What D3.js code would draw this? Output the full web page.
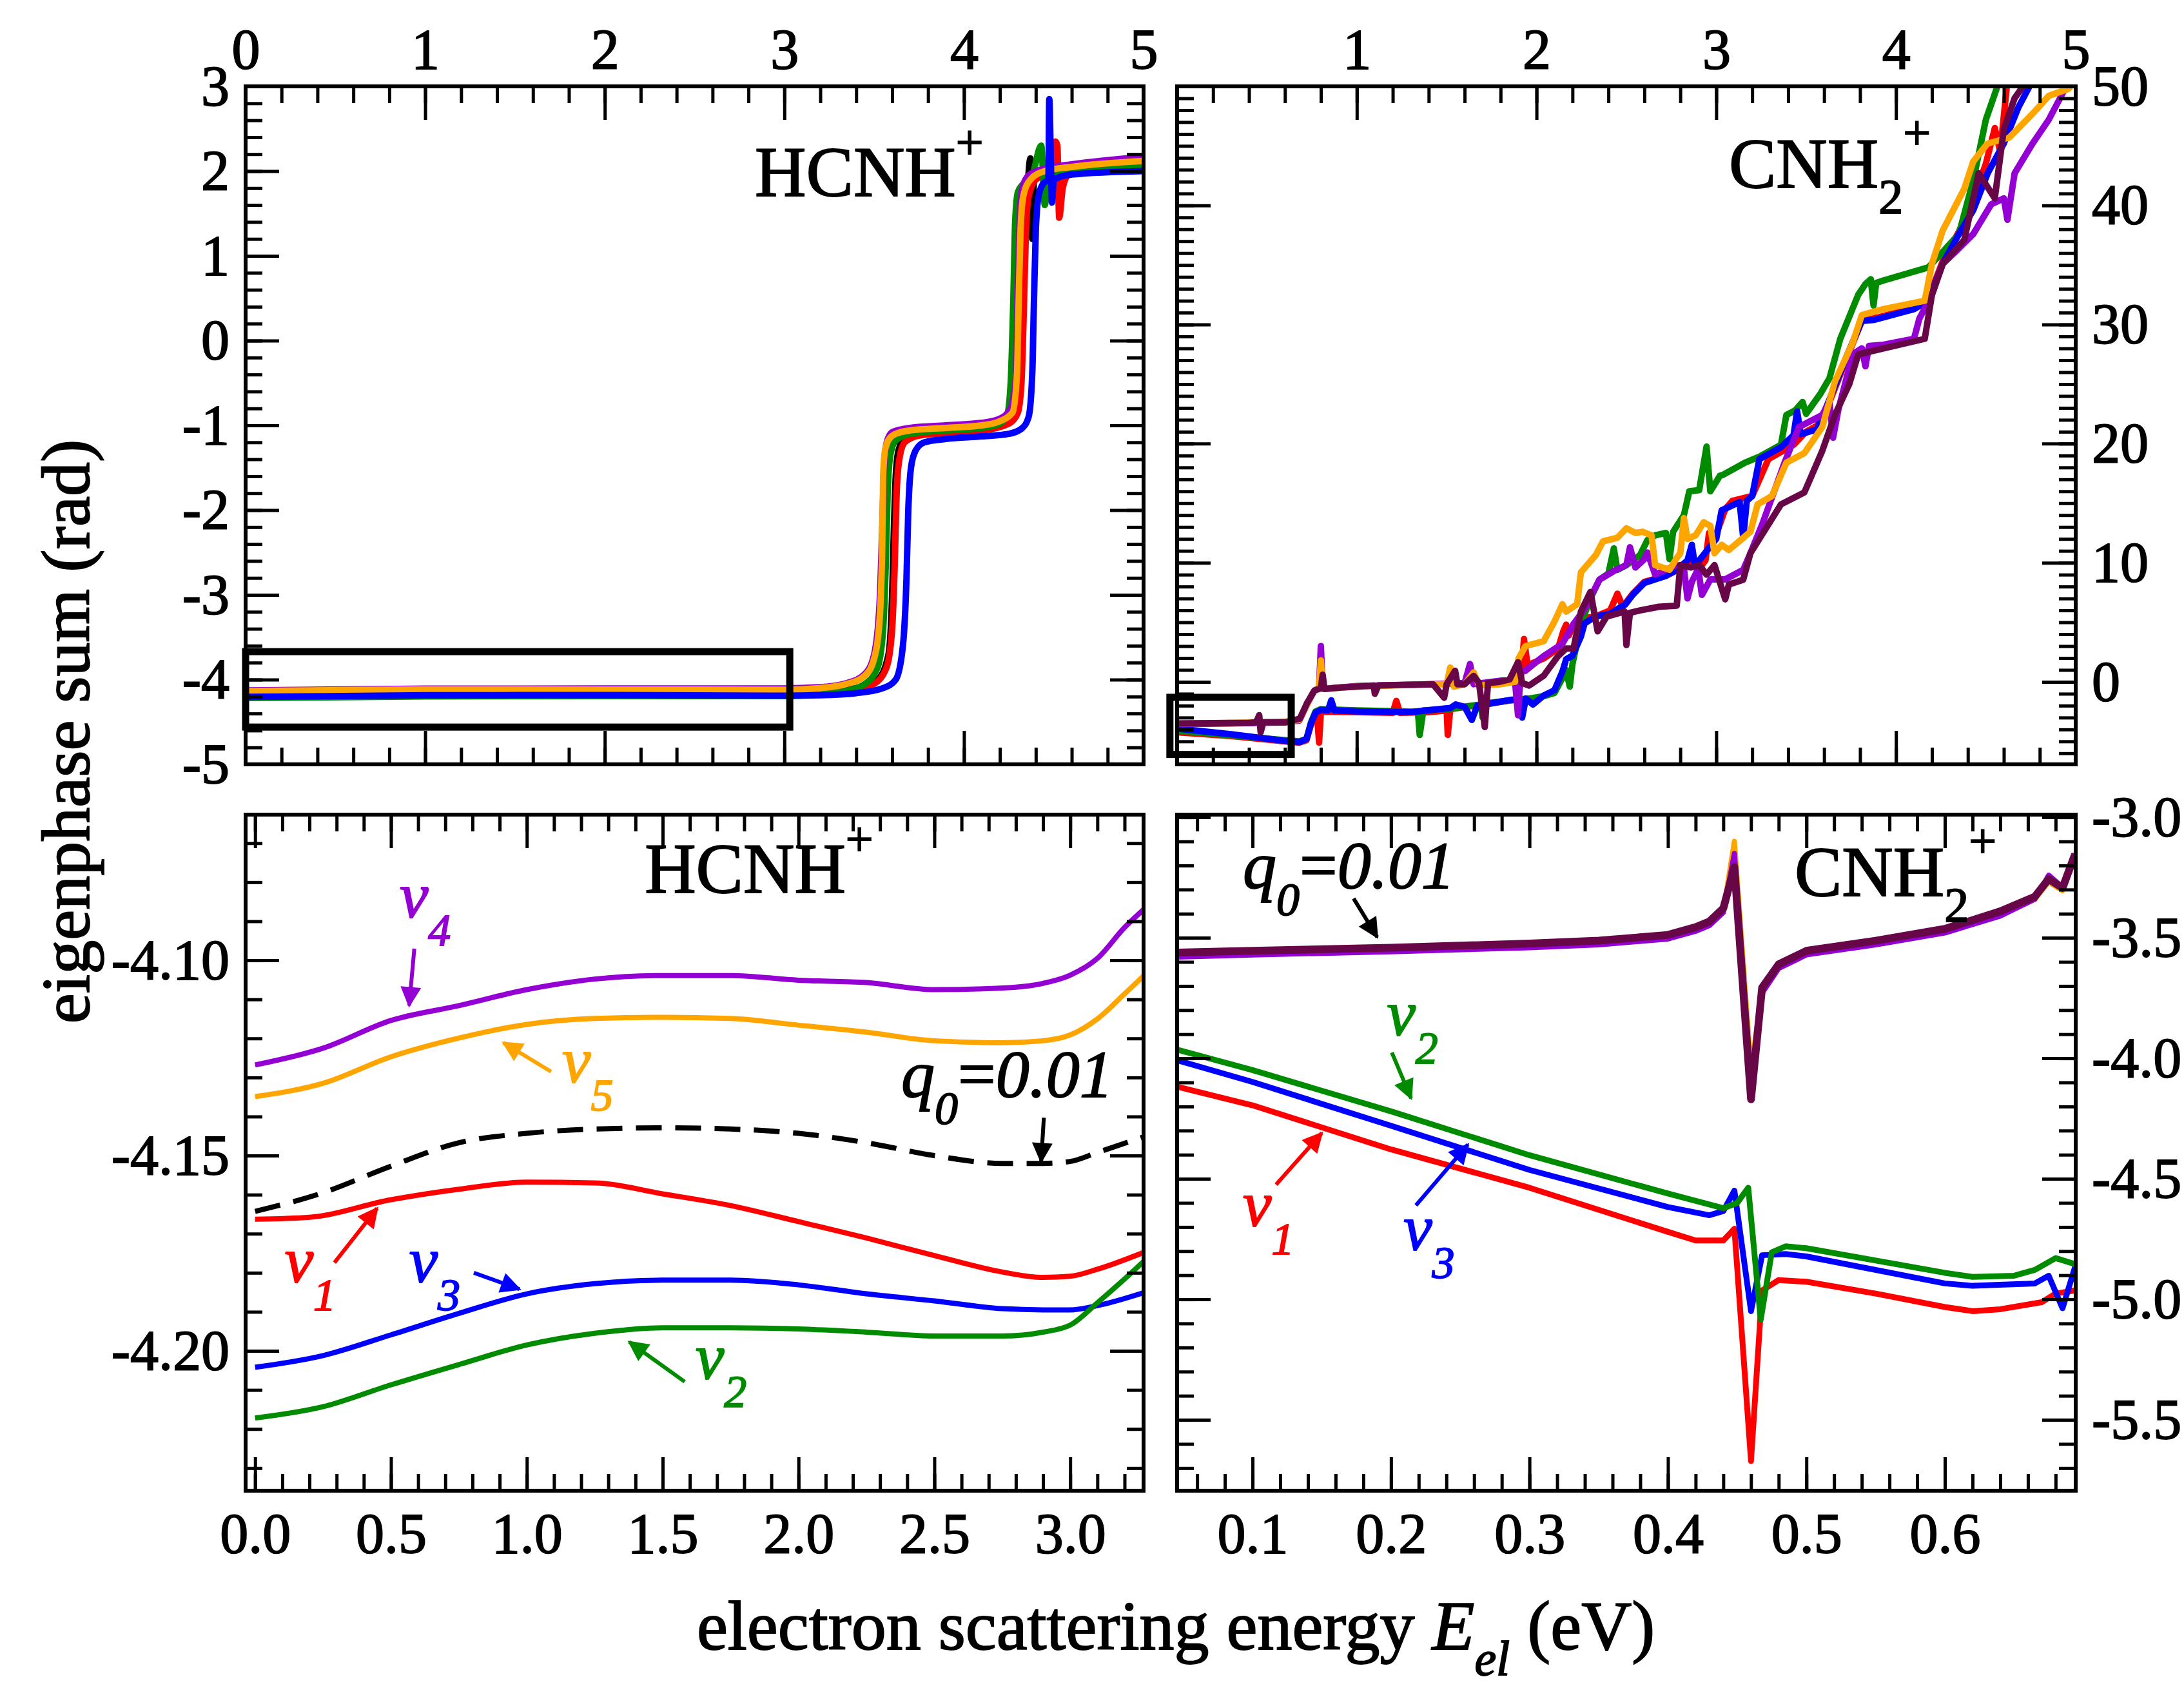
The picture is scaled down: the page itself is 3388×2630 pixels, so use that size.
<!DOCTYPE html>
<html>
<head>
<meta charset="utf-8">
<script src="https://cdn.jsdelivr.net/npm/d3@7"></script>
<style>
  body { margin: 0; background: #fff; }
  text { white-space: pre; }
</style>
</head>
<body>
<script>
// ---------------- data ----------------

// top left: HCNH+, full range
var hcnhBlack = [[0,-4.164],[1,-4.144],[2,-4.144],[3,-4.152],[3.2,-4.14],[3.4,-4.1],[3.52,-4.0],[3.58,-3.7],[3.6,-3.0],[3.61,-2.2],[3.62,-1.6],[3.635,-1.3],[3.67,-1.15],[3.75,-1.1],[3.9,-1.07],[4.1,-1.04],[4.22,-1.0],[4.28,-0.9],[4.31,-0.5],[4.325,0.5],[4.335,1.3],[4.35,1.7],[4.37,2.15],[4.38,1.2],[4.39,1.9],[4.45,2.0],[5,2.05]];
var hcnhRed = [[0,-4.166],[1,-4.157],[2,-4.167],[3,-4.181],[3.2,-4.16],[3.4,-4.12],[3.5,-4.05],[3.57,-3.85],[3.6,-3.4],[3.615,-2.6],[3.625,-1.8],[3.64,-1.4],[3.67,-1.2],[3.75,-1.12],[3.9,-1.09],[4.1,-1.06],[4.25,-0.98],[4.3,-0.85],[4.32,-0.5],[4.335,0.5],[4.345,1.3],[4.36,1.7],[4.4,1.9],[4.48,1.98],[4.5,2.0],[4.51,2.35],[4.52,2.3],[4.53,1.45],[4.55,1.8],[4.58,1.95],[4.7,2.0],[5,2.03]];
var hcnhGreen = [[0,-4.217],[1,-4.198],[2,-4.194],[3,-4.193],[3.2,-4.17],[3.35,-4.13],[3.45,-4.05],[3.52,-3.85],[3.55,-3.4],[3.565,-2.6],[3.575,-1.8],[3.59,-1.35],[3.62,-1.18],[3.7,-1.1],[3.9,-1.06],[4.1,-1.03],[4.2,-0.98],[4.24,-0.88],[4.26,-0.5],[4.275,0.5],[4.285,1.4],[4.3,1.75],[4.33,1.85],[4.38,1.95],[4.43,2.3],[4.45,1.6],[4.47,1.95],[4.6,2.0],[5,2.05]];
var hcnhPurple = [[0,-4.127],[1,-4.107],[2,-4.105],[3,-4.104],[3.2,-4.09],[3.35,-4.04],[3.45,-3.93],[3.5,-3.7],[3.53,-3.1],[3.545,-2.2],[3.555,-1.5],[3.57,-1.2],[3.6,-1.08],[3.7,-1.03],[3.9,-1.0],[4.1,-0.97],[4.2,-0.92],[4.26,-0.8],[4.29,-0.4],[4.3,0.6],[4.31,1.4],[4.325,1.8],[4.36,1.95],[4.45,2.03],[4.6,2.08],[5,2.17]];
var hcnhOrange = [[0,-4.135],[1,-4.116],[2,-4.117],[3,-4.119],[3.2,-4.1],[3.35,-4.05],[3.45,-3.95],[3.5,-3.75],[3.53,-3.3],[3.545,-2.4],[3.55,-1.6],[3.56,-1.3],[3.58,-1.17],[3.62,-1.1],[3.7,-1.06],[3.9,-1.03],[4.1,-1.0],[4.2,-0.95],[4.27,-0.85],[4.295,-0.4],[4.305,0.5],[4.315,1.3],[4.33,1.7],[4.37,1.9],[4.45,2.0],[4.6,2.05],[5,2.12]];
var hcnhBlue = [[0,-4.204],[1,-4.185],[2,-4.183],[3,-4.19],[3.2,-4.185],[3.4,-4.16],[3.55,-4.1],[3.62,-4.0],[3.66,-3.6],[3.68,-2.8],[3.69,-2.0],[3.705,-1.5],[3.73,-1.3],[3.78,-1.2],[3.9,-1.16],[4.1,-1.13],[4.25,-1.1],[4.32,-1.04],[4.36,-0.9],[4.38,-0.4],[4.39,0.5],[4.4,1.3],[4.415,1.7],[4.44,1.85],[4.47,1.9],[4.475,2.85],[4.485,2.0],[4.49,1.63],[4.5,1.9],[4.6,1.96],[5,2.0]];

// top right: CNH2+, full range
var cnhRed = [[0,-4.24],[0.3,-4.55],[0.6,-5.0],[0.68,-5.1],[0.72,-4.9],[0.745,-3.6],[0.77,-2.7],[0.78,-3.0],[0.79,-5.1],[0.8,-2.5],[1.0,-2.55],[1.2,-2.6],[1.22,-1.6],[1.24,-2.6],[1.4,-2.55],[1.5,-2.4],[1.506,-4.45],[1.52,-2.3],[1.6,-2.1],[1.75,-1.8],[1.86,-1.55],[1.9,-1.4],[1.92,1.45],[1.93,3.6],[1.95,1.4],[2.04,1.96],[2.12,2.8],[2.15,4.3],[2.165,4.8],[2.18,3.9],[2.206,4.86],[2.25,5.3],[2.33,5.5],[2.41,6.0],[2.45,7.4],[2.48,6.3],[2.535,7.4],[2.6,8.4],[2.72,8.9],[2.8,9.5],[2.85,10.2],[2.9,9.4],[2.94,10.2],[2.96,12.5],[3.0,12.4],[3.05,14.5],[3.09,15.2],[3.2,15.6],[3.29,18.7],[3.43,19.9],[3.5,21],[3.56,21.5],[3.63,23.5],[3.73,27.3],[3.81,30.3],[3.9,30.6],[4.1,31.4],[4.18,32.2],[4.26,35.3],[4.35,37.8],[4.43,40.5],[4.5,43.5],[4.55,46.5],[4.58,44.5],[4.62,50.5],[4.65,52]];
var cnhGreen = [[0,-4.1],[0.3,-4.5],[0.6,-4.9],[0.68,-5.0],[0.72,-4.8],[0.745,-3.4],[0.77,-2.5],[0.8,-2.3],[1.0,-2.4],[1.3,-2.5],[1.34,-2.5],[1.35,-4.45],[1.37,-2.4],[1.5,-2.3],[1.6,-2.1],[1.69,-1.9],[1.7,-3.0],[1.72,-1.8],[1.86,-1.55],[1.96,-1.4],[2.04,-1.2],[2.1,-0.93],[2.14,0.2],[2.165,1.0],[2.185,-0.4],[2.2,1.5],[2.247,4.86],[2.3,7.0],[2.35,8.58],[2.4,9.1],[2.43,11.2],[2.45,9.4],[2.5,9.8],[2.576,10.65],[2.617,11.9],[2.66,12.3],[2.72,12.5],[2.74,10.3],[2.76,12.6],[2.82,14.0],[2.85,16.0],[2.905,16.1],[2.946,19.75],[2.967,16.0],[3.02,17.3],[3.04,17.4],[3.16,18.4],[3.24,18.9],[3.36,19.9],[3.39,22.4],[3.44,22.8],[3.48,23.5],[3.5,22.5],[3.58,24.2],[3.63,25.5],[3.69,28.8],[3.79,32.5],[3.83,33.4],[3.86,33.8],[3.875,31.6],[3.89,33.5],[3.93,33.7],[4.18,34.8],[4.26,36.1],[4.35,37.6],[4.43,42.1],[4.5,47.2],[4.56,49.8],[4.6,52]];
var cnhBlue = [[0,-3.93],[0.3,-4.4],[0.6,-4.96],[0.68,-5.07],[0.72,-4.8],[0.745,-3.5],[0.77,-2.6],[0.8,-2.35],[0.84,-2.4],[0.858,-1.55],[0.875,-2.4],[1.0,-2.48],[1.3,-2.55],[1.45,-2.3],[1.52,-2.2],[1.55,-1.9],[1.6,-2.1],[1.64,-3.2],[1.67,-2.0],[1.75,-1.8],[1.86,-1.5],[1.9,-1.5],[1.92,-3.0],[1.94,-1.4],[1.98,-1.9],[2.04,-1.15],[2.1,-0.7],[2.145,0.9],[2.165,1.9],[2.2,2.2],[2.247,3.8],[2.267,4.9],[2.33,5.5],[2.41,5.7],[2.46,6.2],[2.494,6.5],[2.535,7.3],[2.6,8.3],[2.72,8.9],[2.78,9.4],[2.84,10.2],[2.864,11.5],[2.88,9.9],[2.9,10.1],[3.0,12.0],[3.03,14.4],[3.13,15.1],[3.15,12.1],[3.17,15.2],[3.2,15.6],[3.24,18.7],[3.36,19.7],[3.43,20.7],[3.45,22.7],[3.47,20.8],[3.56,21.2],[3.63,23.7],[3.73,27.5],[3.81,30.3],[3.88,30.4],[4.1,31.3],[4.18,32.0],[4.26,35.1],[4.35,37.6],[4.43,39.6],[4.51,42.7],[4.6,45.2],[4.68,48.2],[4.76,50.5],[4.8,52]];
var cnhPurple = [[0,-3.55],[0.3,-3.5],[0.6,-3.4],[0.68,-3.25],[0.72,-2.0],[0.76,-0.8],[0.79,-0.5],[0.8,3.0],[0.81,-0.6],[1.0,-0.35],[1.4,-0.2],[1.6,-0.1],[1.63,1.5],[1.65,-0.2],[1.8,0.1],[1.88,0.1],[1.897,-2.8],[1.91,0.8],[1.938,0.93],[2.04,2.17],[2.144,3.2],[2.206,4.86],[2.267,6.1],[2.35,8.58],[2.43,9.3],[2.5,9.8],[2.52,11.3],[2.55,9.6],[2.6,10.3],[2.617,10.86],[2.66,9.0],[2.78,9.8],[2.82,9.5],[2.84,7.0],[2.864,8.4],[2.9,9.5],[2.92,7.3],[2.967,8.6],[3.05,8.6],[3.15,9.4],[3.19,10.8],[3.26,13.4],[3.38,18.4],[3.46,21.4],[3.59,22.4],[3.63,23.5],[3.65,20.5],[3.68,22.9],[3.76,27.5],[3.81,28.0],[3.83,26.5],[3.85,28.2],[3.93,28.3],[4.1,28.8],[4.13,30.5],[4.2,32.5],[4.26,35.1],[4.33,36.1],[4.43,37.6],[4.53,40.1],[4.6,40.6],[4.62,38.8],[4.66,42.7],[4.76,45.2],[4.85,47.2],[4.93,49.5],[4.98,51]];
var cnhOrange = [[0,-3.5],[0.3,-3.45],[0.6,-3.35],[0.68,-3.2],[0.72,-2.0],[0.76,-0.8],[0.79,-0.5],[0.8,1.8],[0.81,-0.6],[1.0,-0.4],[1.2,-0.3],[1.4,-0.2],[1.5,-0.2],[1.52,1.2],[1.54,-0.4],[1.6,-0.2],[1.65,0.8],[1.68,-0.3],[1.8,-0.2],[1.88,0.0],[1.9,1.96],[1.938,3.0],[2.04,3.41],[2.1,5.07],[2.144,6.52],[2.165,5.9],[2.226,6.52],[2.247,9.2],[2.33,10.65],[2.37,11.8],[2.45,12.1],[2.5,12.9],[2.55,12.5],[2.59,12.6],[2.64,12.3],[2.66,9.8],[2.74,9.41],[2.78,10.4],[2.8,10.8],[2.82,13.75],[2.84,12.0],[2.885,12.3],[2.93,13.4],[2.967,13.1],[2.99,10.8],[3.03,11.5],[3.07,11.07],[3.19,12.6],[3.23,14.9],[3.31,15.6],[3.39,18.4],[3.49,19.2],[3.59,21.4],[3.66,25.2],[3.76,28.5],[3.81,30.8],[3.93,31.3],[4.16,32.0],[4.2,35.1],[4.26,37.9],[4.38,41.4],[4.43,43.7],[4.51,45.2],[4.63,45.7],[4.76,47.7],[4.85,49.2],[4.96,49.8],[5,50.5]];
var cnhMaroon = [[0,-3.5],[0.3,-3.45],[0.395,-3.45],[0.44,-3.4],[0.457,-2.8],[0.465,-4.24],[0.48,-3.4],[0.6,-3.4],[0.683,-3.1],[0.724,-1.76],[0.765,-0.72],[0.8,-0.55],[0.81,0.6],[0.82,-0.6],[0.91,-0.48],[1.095,-0.31],[1.1,-1.0],[1.12,-0.3],[1.424,-0.2],[1.486,-1.34],[1.5,-0.2],[1.547,0.93],[1.56,-0.2],[1.6,-0.2],[1.65,0.5],[1.68,-0.1],[1.712,-3.8],[1.73,-0.1],[1.794,0.0],[1.85,0.2],[1.897,1.65],[1.92,-0.1],[1.959,-0.31],[2.04,0.52],[2.12,2.17],[2.165,2.8],[2.206,2.8],[2.247,5.9],[2.3,7.55],[2.34,4.24],[2.39,5.48],[2.49,5.9],[2.5,3.1],[2.52,5.8],[2.576,6.0],[2.68,6.3],[2.78,6.4],[2.8,9.8],[2.86,9.6],[2.905,9.8],[2.946,9.0],[2.99,9.8],[3.05,6.93],[3.07,8.17],[3.15,8.58],[3.19,10.8],[3.36,14.9],[3.49,15.9],[3.59,19.4],[3.66,22.4],[3.74,25.0],[3.79,27.5],[3.93,28.0],[4.16,28.8],[4.2,32.5],[4.26,35.1],[4.38,37.1],[4.46,42.7],[4.55,40.6],[4.6,46.4],[4.66,49.0],[4.73,50.5],[4.76,52]];

// bottom left: HCNH+, low energy close-up
var lowHcnhPurple = [[0,-4.1268],[0.25,-4.1225],[0.5,-4.1154],[0.75,-4.1116],[1.0,-4.1075],[1.25,-4.1048],[1.5,-4.1039],[1.75,-4.1039],[2.0,-4.1051],[2.25,-4.1057],[2.5,-4.1075],[2.75,-4.1071],[2.9,-4.1059],[3.0,-4.1038],[3.1,-4.0995],[3.2,-4.0916],[3.27,-4.087]];
var lowHcnhOrange = [[0,-4.1349],[0.25,-4.1315],[0.5,-4.1247],[0.75,-4.1199],[1.0,-4.1164],[1.25,-4.1149],[1.5,-4.1146],[1.75,-4.1149],[2.0,-4.1166],[2.25,-4.1184],[2.5,-4.1206],[2.75,-4.1211],[2.9,-4.1206],[3.0,-4.1191],[3.1,-4.115],[3.2,-4.1086],[3.27,-4.104]];
var lowHcnhBlack = [[0,-4.1643],[0.25,-4.1595],[0.5,-4.1527],[0.75,-4.1467],[1.0,-4.1443],[1.25,-4.1432],[1.5,-4.1429],[1.75,-4.1432],[2.0,-4.1443],[2.25,-4.1467],[2.5,-4.15],[2.75,-4.152],[2.9,-4.152],[3.0,-4.1515],[3.1,-4.1492],[3.27,-4.1452]];
var lowHcnhRed = [[0,-4.1663],[0.2,-4.1658],[0.5,-4.1613],[0.75,-4.1586],[1.0,-4.1568],[1.25,-4.157],[1.5,-4.1598],[1.75,-4.1628],[2.0,-4.1669],[2.25,-4.1711],[2.5,-4.1756],[2.75,-4.1798],[2.9,-4.1812],[3.0,-4.1809],[3.1,-4.1791],[3.27,-4.1748]];
var lowHcnhBlue = [[0,-4.2042],[0.25,-4.2012],[0.5,-4.1959],[0.75,-4.1904],[1.0,-4.1854],[1.25,-4.1828],[1.5,-4.1819],[1.75,-4.1819],[2.0,-4.1831],[2.25,-4.1854],[2.5,-4.1872],[2.75,-4.1892],[2.9,-4.1895],[3.0,-4.1895],[3.1,-4.1884],[3.27,-4.1851]];
var lowHcnhGreen = [[0,-4.2172],[0.25,-4.2143],[0.5,-4.2087],[0.75,-4.2035],[1.0,-4.1985],[1.25,-4.1955],[1.5,-4.1941],[1.75,-4.1941],[2.0,-4.1944],[2.25,-4.1952],[2.5,-4.1962],[2.75,-4.1962],[2.9,-4.1952],[3.0,-4.1934],[3.1,-4.1877],[3.2,-4.1816],[3.27,-4.1771]];

// bottom right: CNH2+, low energy close-up
var lowCnhRed = [[0.045,-4.117],[0.1,-4.195],[0.2,-4.378],[0.3,-4.537],[0.4,-4.72],[0.42,-4.756],[0.44,-4.756],[0.448,-4.707],[0.46,-5.671],[0.468,-4.963],[0.48,-4.92],[0.5,-4.927],[0.55,-4.976],[0.6,-5.032],[0.62,-5.049],[0.64,-5.041],[0.67,-5.012],[0.68,-4.976],[0.694,-4.963]];
var lowCnhBlue = [[0.045,-4.007],[0.1,-4.098],[0.2,-4.28],[0.3,-4.463],[0.4,-4.617],[0.43,-4.651],[0.44,-4.634],[0.448,-4.549],[0.46,-5.049],[0.468,-4.817],[0.485,-4.812],[0.5,-4.822],[0.6,-4.934],[0.62,-4.944],[0.665,-4.934],[0.675,-4.902],[0.685,-5.037],[0.694,-4.866]];
var lowCnhGreen = [[0.045,-3.963],[0.1,-4.049],[0.2,-4.22],[0.3,-4.402],[0.4,-4.561],[0.44,-4.622],[0.45,-4.6],[0.458,-4.537],[0.467,-5.085],[0.475,-4.805],[0.485,-4.78],[0.5,-4.788],[0.6,-4.89],[0.62,-4.907],[0.65,-4.902],[0.665,-4.878],[0.68,-4.829],[0.694,-4.854]];
var lowCnhOrange = [[0.045,-3.575],[0.1,-3.566],[0.2,-3.553],[0.3,-3.536],[0.35,-3.524],[0.4,-3.5],[0.42,-3.468],[0.43,-3.444],[0.44,-3.39],[0.448,-3.10],[0.46,-4.05],[0.468,-3.72],[0.48,-3.622],[0.5,-3.566],[0.55,-3.524],[0.6,-3.475],[0.64,-3.402],[0.665,-3.341],[0.675,-3.268],[0.685,-3.305],[0.694,-3.166]];
var lowCnhPurple = [[0.045,-3.58],[0.1,-3.571],[0.2,-3.558],[0.3,-3.541],[0.35,-3.529],[0.4,-3.505],[0.42,-3.473],[0.43,-3.449],[0.44,-3.395],[0.448,-3.15],[0.46,-4.1],[0.468,-3.73],[0.48,-3.627],[0.5,-3.571],[0.55,-3.529],[0.6,-3.48],[0.64,-3.41],[0.665,-3.34],[0.675,-3.24],[0.685,-3.29],[0.694,-3.15]];
var lowCnhMaroon = [[0.045,-3.561],[0.1,-3.554],[0.2,-3.541],[0.3,-3.524],[0.35,-3.512],[0.4,-3.488],[0.42,-3.456],[0.43,-3.432],[0.44,-3.378],[0.448,-3.207],[0.46,-4.17],[0.468,-3.707],[0.48,-3.61],[0.5,-3.554],[0.55,-3.512],[0.6,-3.463],[0.64,-3.39],[0.665,-3.329],[0.675,-3.256],[0.685,-3.293],[0.694,-3.154]];

// tick labels
var tlXLabels = [0, 1, 2, 3, 4, 5];
var tlYLabels = [-5, -4, -3, -2, -1, 0, 1, 2, 3];
var trXLabels = [1, 2, 3, 4, 5];
var trYLabels = [0, 10, 20, 30, 40, 50];
var blXLabels = [0, 0.5, 1, 1.5, 2, 2.5, 3];
var blYLabels = [-4.20, -4.15, -4.10];
var brXLabels = [0.1, 0.2, 0.3, 0.4, 0.5, 0.6];
var brYLabels = [-5.5, -5.0, -4.5, -4.0, -3.5, -3.0];

// ---------------- drawing ----------------
var serif = "'Liberation Serif', 'Times New Roman', Times, serif";
var RED = "#ff0000", GREEN = "#008b00", BLUE = "#0000ff", PURPLE = "#9400d3",
    ORANGE = "#ffa500", MAROON = "#670748", BLACK = "#000000";
var TEXT_STROKE = 1.8;   // the printed glyphs are a bit heavier than plain Liberation Serif

var svg = d3.select("body").append("svg")
    .attr("width", 3388)
    .attr("height", 2630)
    .style("background", "#fff");
var defs = svg.append("defs");

function steps(a, b, s) {
  return d3.range(Math.ceil(a / s - 1e-6), Math.floor(b / s + 1e-6) + 1)
    .map(function(i) { return +(i * s).toFixed(6); });
}

var panelId = 0;
function drawPanel(box, xDom, yDom, cfg) {
  var id = panelId++;
  var x = d3.scaleLinear().domain(xDom).range([box.x0, box.x1]);
  var y = d3.scaleLinear().domain(yDom).range([box.y1, box.y0]);
  var g = svg.append("g");

  defs.append("clipPath").attr("id", "clip" + id)
    .append("rect")
      .attr("x", box.x0).attr("y", box.y0)
      .attr("width", box.x1 - box.x0).attr("height", box.y1 - box.y0);

  var line = d3.line()
      .x(function(d) { return x(d[0]); })
      .y(function(d) { return y(d[1]); })
      .curve(cfg.curve || d3.curveLinear);

  g.append("g")
      .attr("clip-path", "url(#clip" + id + ")")
    .selectAll("path")
      .data(cfg.series)
    .enter().append("path")
      .attr("d", function(d) { return line(d.pts); })
      .attr("fill", "none")
      .attr("stroke", function(d) { return d.color; })
      .attr("stroke-width", function(d) { return d.width; })
      .attr("stroke-dasharray", function(d) { return d.dash || null; })
      .attr("stroke-linejoin", "round");

  var sides = [
    { make: function() { return d3.axisTop(x); }, t: "translate(0," + box.y0 + ")", isX: true, name: "top" },
    { make: function() { return d3.axisBottom(x); }, t: "translate(0," + box.y1 + ")", isX: true, name: "bottom" },
    { make: function() { return d3.axisLeft(y); }, t: "translate(" + box.x0 + ",0)", isX: false, name: "left" },
    { make: function() { return d3.axisRight(y); }, t: "translate(" + box.x1 + ",0)", isX: false, name: "right" }
  ];

  sides.forEach(function(s) {
    var dom = s.isX ? xDom : yDom;
    var minor = steps(Math.min(dom[0], dom[1]), Math.max(dom[0], dom[1]), s.isX ? cfg.xMinor : cfg.yMinor);
    var major = steps(Math.min(dom[0], dom[1]), Math.max(dom[0], dom[1]), s.isX ? cfg.xMajor : cfg.yMajor);
    var labelled = s.isX ? cfg.xSide === s.name : cfg.ySide === s.name;
    var labels = s.isX ? cfg.xLabels : cfg.yLabels;
    var fmt = s.isX ? cfg.xFmt : cfg.yFmt;

    var minorAxis = s.make().tickValues(minor).tickSizeInner(-26).tickSizeOuter(0).tickFormat("");
    var majorAxis = s.make().tickValues(major).tickSizeInner(-52).tickSizeOuter(0)
        .tickPadding(s.isX ? (s.name === "top" ? 28 : 34) : 25)
        .tickFormat(function(d) {
          if (!labelled) return "";
          var hit = labels.some(function(v) { return Math.abs(v - d) < 1e-6; });
          return hit ? fmt(d) : "";
        });

    [minorAxis, majorAxis].forEach(function(ax) {
      var ag = g.append("g").attr("transform", s.t).call(ax);
      ag.select(".domain").remove();
      ag.attr("font-family", serif).attr("font-size", 88);
      ag.selectAll("line").attr("stroke", BLACK).attr("stroke-width", 5);
      ag.selectAll("text").attr("fill", BLACK)
          .attr("stroke", BLACK).attr("stroke-width", TEXT_STROKE);
    });
  });

  g.append("rect")
      .attr("x", box.x0).attr("y", box.y0)
      .attr("width", box.x1 - box.x0).attr("height", box.y1 - box.y0)
      .attr("fill", "none").attr("stroke", BLACK).attr("stroke-width", 6);

  return { x: x, y: y, g: g };
}

function richText(px, py, parts, color, anchor) {
  var t = svg.append("text")
      .attr("x", px).attr("y", py)
      .attr("font-family", serif)
      .attr("fill", color)
      .attr("stroke", color)
      .attr("stroke-width", TEXT_STROKE)
      .attr("text-anchor", anchor || "start");
  var cur = 0;
  parts.forEach(function(p) {
    var sh = p.shift || 0;
    t.append("tspan")
        .attr("dy", sh - cur)
        .attr("font-size", p.size)
        .attr("font-style", p.italic ? "italic" : "normal")
        .text(p.t);
    cur = sh;
  });
  return t;
}

var markerCount = 0;
function arrow(p, from, to, color) {
  var mid = "ah" + (markerCount++);
  var m = defs.append("marker")
      .attr("id", mid)
      .attr("viewBox", "0 0 10 10")
      .attr("refX", 9).attr("refY", 5)
      .attr("markerWidth", 40).attr("markerHeight", 32)
      .attr("markerUnits", "userSpaceOnUse")
      .attr("orient", "auto");
  m.append("path").attr("d", "M0,0 L10,5 L0,10 z").attr("fill", color);
  svg.append("line")
      .attr("x1", p.x(from[0])).attr("y1", p.y(from[1]))
      .attr("x2", p.x(to[0])).attr("y2", p.y(to[1]))
      .attr("stroke", color).attr("stroke-width", 6)
      .attr("marker-end", "url(#" + mid + ")");
}

function fmtInt(d) { return String(d); }

// --- top left
var tl = drawPanel({ x0: 381, x1: 1774, y0: 134, y1: 1186 }, [0, 5], [-5, 3], {
  xMajor: 1, xMinor: 0.2, yMajor: 1, yMinor: 0.2,
  xSide: "top", xLabels: tlXLabels, xFmt: fmtInt,
  ySide: "left", yLabels: tlYLabels, yFmt: fmtInt,
  curve: d3.curveMonotoneX,
  series: [
    { pts: hcnhBlack, color: BLACK, width: 10 },
    { pts: hcnhRed, color: RED, width: 10 },
    { pts: hcnhGreen, color: GREEN, width: 10 },
    { pts: hcnhPurple, color: PURPLE, width: 10 },
    { pts: hcnhOrange, color: ORANGE, width: 10 },
    { pts: hcnhBlue, color: BLUE, width: 10 }
  ]
});

// --- top right
var tr = drawPanel({ x0: 1826, x1: 3220, y0: 134, y1: 1186 }, [0, 5], [-6.93, 50], {
  xMajor: 1, xMinor: 0.2, yMajor: 10, yMinor: 1,
  xSide: "top", xLabels: trXLabels, xFmt: fmtInt,
  ySide: "right", yLabels: trYLabels, yFmt: fmtInt,
  series: [
    { pts: cnhRed, color: RED, width: 10 },
    { pts: cnhGreen, color: GREEN, width: 10 },
    { pts: cnhBlue, color: BLUE, width: 10 },
    { pts: cnhPurple, color: PURPLE, width: 10 },
    { pts: cnhOrange, color: ORANGE, width: 10 },
    { pts: cnhMaroon, color: MAROON, width: 10 }
  ]
});

// --- bottom left
var bl = drawPanel({ x0: 381, x1: 1774, y0: 1264, y1: 2313 }, [-0.035, 3.27], [-4.2358, -4.0627], {
  xMajor: 0.5, xMinor: 0.1, yMajor: 0.05, yMinor: 0.01,
  xSide: "bottom", xLabels: blXLabels, xFmt: function(d) { return d.toFixed(1); },
  ySide: "left", yLabels: blYLabels, yFmt: function(d) { return d.toFixed(2); },
  curve: d3.curveMonotoneX,
  series: [
    { pts: lowHcnhPurple, color: PURPLE, width: 8 },
    { pts: lowHcnhOrange, color: ORANGE, width: 8 },
    { pts: lowHcnhBlack, color: BLACK, width: 8, dash: "40 21" },
    { pts: lowHcnhRed, color: RED, width: 8 },
    { pts: lowHcnhBlue, color: BLUE, width: 8 },
    { pts: lowHcnhGreen, color: GREEN, width: 8 }
  ]
});

// --- bottom right
var br = drawPanel({ x0: 1826, x1: 3220, y0: 1264, y1: 2313 }, [0.0455, 0.6945], [-5.794, -2.989], {
  xMajor: 0.1, xMinor: 0.02, yMajor: 0.5, yMinor: 0.1,
  xSide: "bottom", xLabels: brXLabels, xFmt: function(d) { return d.toFixed(1); },
  ySide: "right", yLabels: brYLabels, yFmt: function(d) { return d.toFixed(1); },
  series: [
    { pts: lowCnhRed, color: RED, width: 9 },
    { pts: lowCnhBlue, color: BLUE, width: 9 },
    { pts: lowCnhGreen, color: GREEN, width: 9 },
    { pts: lowCnhOrange, color: ORANGE, width: 8 },
    { pts: lowCnhPurple, color: PURPLE, width: 8 },
    { pts: lowCnhMaroon, color: MAROON, width: 12 }
  ]
});

// zoom boxes in the top panels
svg.append("rect")
    .attr("x", tl.x(0)).attr("y", tl.y(-3.67))
    .attr("width", tl.x(3.03) - tl.x(0)).attr("height", tl.y(-4.56) - tl.y(-3.67))
    .attr("fill", "none").attr("stroke", BLACK).attr("stroke-width", 11);
svg.append("rect")
    .attr("x", tr.x(-0.04)).attr("y", tr.y(-1.3))
    .attr("width", tr.x(0.635) - tr.x(-0.04)).attr("height", tr.y(-6.1) - tr.y(-1.3))
    .attr("fill", "none").attr("stroke", BLACK).attr("stroke-width", 11);

// molecule labels
richText(tl.x(2.836), tl.y(1.707), [{ t: "HCNH", size: 110 }, { t: "+", size: 76, shift: -58 }], BLACK);
richText(tr.x(3.07), tr.y(41.5), [{ t: "CNH", size: 110 }, { t: "2", size: 76, shift: 40 }, { t: "+", size: 76, shift: -60 }], BLACK);
richText(bl.x(1.434), bl.y(-4.0827), [{ t: "HCNH", size: 110 }, { t: "+", size: 76, shift: -58 }], BLACK);
richText(br.x(0.4915), br.y(-3.326), [{ t: "CNH", size: 110 }, { t: "2", size: 76, shift: 40 }, { t: "+", size: 76, shift: -60 }], BLACK);

// mode annotations
function nu(p, at, sub, color) {
  richText(p.x(at[0]), p.y(at[1]), [
    { t: "v", size: 100, italic: true },
    { t: sub, size: 70, italic: true, shift: 44 }
  ], color);
}
function q0(p, at) {
  richText(p.x(at[0]), p.y(at[1]), [
    { t: "q", size: 104, italic: true },
    { t: "0", size: 72, italic: true, shift: 42 },
    { t: "=", size: 104, shift: 0 },
    { t: "0.01", size: 104, italic: true }
  ], BLACK);
}

nu(bl, [0.532, -4.089], "4", PURPLE);
arrow(bl, [0.586, -4.097], [0.567, -4.1116], PURPLE);
nu(bl, [1.13, -4.1312], "5", ORANGE);
arrow(bl, [1.089, -4.1285], [0.914, -4.1211], ORANGE);
q0(bl, [2.378, -4.135]);
arrow(bl, [2.903, -4.1403], [2.893, -4.1515], BLACK);
nu(bl, [0.109, -4.1823], "1", RED);
arrow(bl, [0.292, -4.1774], [0.449, -4.1635], RED);
nu(bl, [0.567, -4.1823], "3", BLUE);
arrow(bl, [0.805, -4.18], [0.973, -4.1842], BLUE);
nu(bl, [1.621, -4.2071], "2", GREEN);
arrow(bl, [1.581, -4.2079], [1.377, -4.1977], GREEN);

q0(br, [0.093, -3.294]);
arrow(br, [0.173, -3.337], [0.19, -3.497], BLACK);
nu(br, [0.197, -3.904], "2", GREEN);
arrow(br, [0.2006, -3.976], [0.2145, -4.166], GREEN);
nu(br, [0.093, -4.695], "1", RED);
arrow(br, [0.117, -4.524], [0.150, -4.310], RED);
nu(br, [0.209, -4.794], "3", BLUE);
arrow(br, [0.218, -4.61], [0.2555, -4.358], BLUE);

// axis titles
richText(1824, 2559, [
  { t: "electron scattering energy ", size: 108 },
  { t: "E", size: 108, italic: true },
  { t: "el", size: 76, italic: true, shift: 40 },
  { t: " (eV)", size: 108, shift: 0 }
], BLACK, "middle");

svg.append("text")
    .attr("transform", "translate(138,1135) rotate(-90)")
    .attr("text-anchor", "middle")
    .attr("font-family", serif)
    .attr("font-size", 106)
    .attr("fill", BLACK)
    .attr("stroke", BLACK)
    .attr("stroke-width", TEXT_STROKE)
    .text("eigenphase sum (rad)");
</script>
</body>
</html>
